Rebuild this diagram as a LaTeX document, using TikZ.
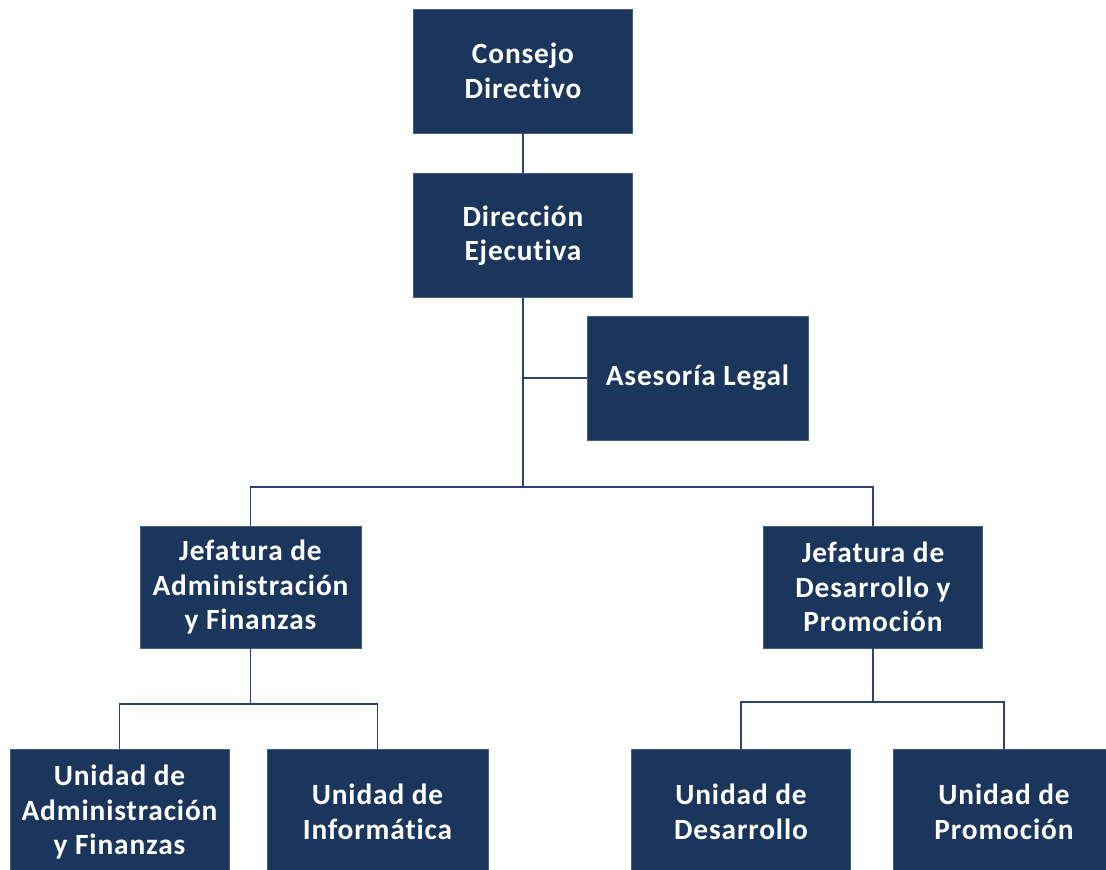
\documentclass[tikz,border=0pt]{standalone}
\usepackage{fontspec}
\setmainfont{Carlito}[Ligatures=NoCommon,LetterSpace=3]
\definecolor{orgnavy}{RGB}{27, 54, 93}
\definecolor{orgline}{RGB}{44, 66, 118}

\begin{document}
\begin{tikzpicture}[x=0.75pt,y=-0.75pt,
  unitbox/.style={fill=orgnavy,draw=orgnavy!80!white,line width=0.4pt,text=white,
    font=\fontsize{22}{25.9}\selectfont\bfseries,align=center,inner sep=0pt,
    minimum width=164pt,minimum height=93pt},
  link/.style={draw=orgline,line width=1.1pt}]
\useasboundingbox (0,0) rectangle (1106,869);

% Top levels
\node[unitbox] (consejo) at (523,71) {Consejo\\Directivo};
\node[unitbox] (direccion) at (523,235.5) {Dirección\\Ejecutiva};
\node[unitbox,minimum width=166pt] (asesoria) at (697.5,378) {Asesoría Legal};

% Jefaturas
\node[unitbox,minimum width=166pt,minimum height=91.5pt] (jefadm) at (250.5,587) {Jefatura de\\Administración\\y Finanzas};
\node[unitbox,minimum height=91.5pt] (jefdes) at (873,587) {Jefatura de\\Desarrollo y\\Promoción};

% Unidades
\node[unitbox,minimum height=94.5pt] (uadm) at (119.5,812) {Unidad de\\Administración\\y Finanzas};
\node[unitbox,minimum width=166pt,minimum height=94.5pt] (uinf) at (377.5,812) {Unidad de\\Informática};
\node[unitbox,minimum height=94.5pt] (udes) at (741,812) {Unidad de\\Desarrollo};
\node[unitbox,minimum width=166pt,minimum height=94.5pt] (uprom) at (1004,812) {Unidad de\\Promoción};

% Junctions
\coordinate (hub) at (523,487);
\coordinate (admbar) at (250.5,704);
\coordinate (desbar) at (873,702);

% Links
\draw[link] (consejo.south) -- (direccion.north);
\draw[link] (direccion.south) -- (hub);
\draw[link] (asesoria.west) -- (asesoria.west -| direccion.south);
\draw[link] (hub) -| (jefadm.north);
\draw[link] (hub) -| (jefdes.north);
\draw[link] (jefadm.south) -- (admbar);
\draw[link] (admbar) -| (uadm.north);
\draw[link] (admbar) -| (uinf.north);
\draw[link] (jefdes.south) -- (desbar);
\draw[link] (desbar) -| (udes.north);
\draw[link] (desbar) -| (uprom.north);
\end{tikzpicture}
\end{document}
